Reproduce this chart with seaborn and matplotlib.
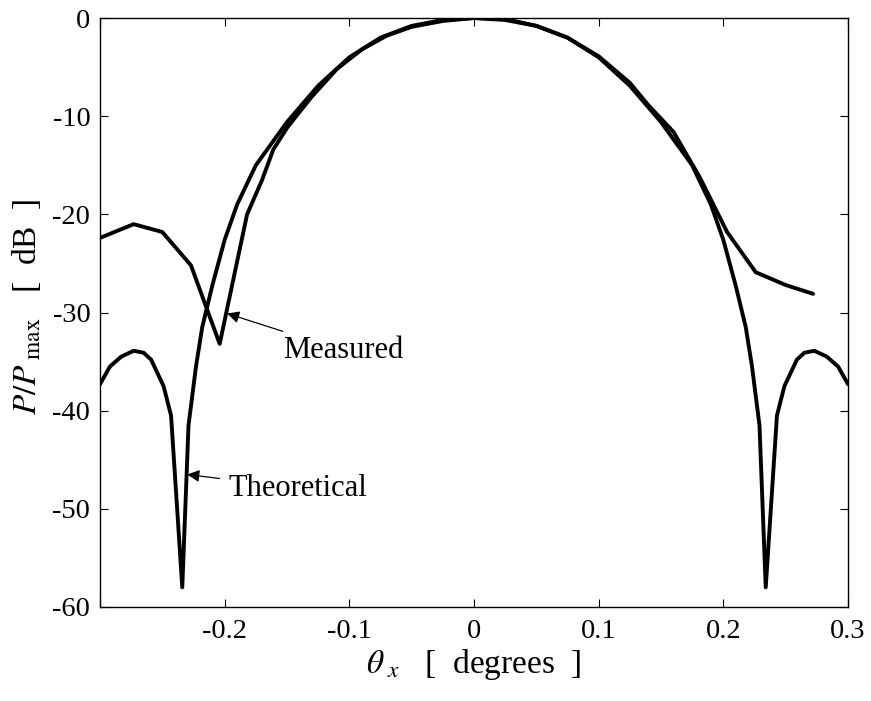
import numpy as np
import pandas as pd
import matplotlib
matplotlib.use("Agg")
import matplotlib.pyplot as plt
import seaborn as sns

# Data (theta in degrees, power in dB)
theory_x = [-0.300, -0.292, -0.283, -0.273, -0.265, -0.259, -0.249, -0.243, -0.234,
            -0.229, -0.223, -0.218, -0.210, -0.200, -0.190, -0.175, -0.150, -0.125,
            -0.100, -0.075, -0.050, -0.025, 0.000, 0.025, 0.050, 0.075, 0.100,
            0.125, 0.150, 0.175, 0.190, 0.200, 0.210, 0.218, 0.223, 0.229, 0.234,
            0.243, 0.249, 0.259, 0.265, 0.273, 0.283, 0.292, 0.300]
theory_y = [-37.3, -35.5, -34.5, -33.9, -34.1, -34.8, -37.5, -40.5, -58.0,
            -41.5, -35.5, -31.5, -27.3, -22.6, -19.0, -15.0, -10.6, -6.9,
            -4.0, -2.0, -0.8, -0.2, 0.0, -0.2, -0.8, -2.0, -4.0,
            -6.9, -10.6, -15.0, -19.0, -22.6, -27.3, -31.5, -35.5, -41.5, -58.0,
            -40.5, -37.5, -34.8, -34.1, -33.9, -34.5, -35.5, -37.3]

meas_x = [-0.300, -0.273, -0.250, -0.227, -0.204, -0.182, -0.170, -0.161, -0.150,
          -0.142, -0.130, -0.110, -0.090, -0.070, -0.050, -0.025, 0.000, 0.025,
          0.050, 0.075, 0.100, 0.125, 0.140, 0.160, 0.181, 0.203, 0.226, 0.250, 0.272]
meas_y = [-22.4, -21.0, -21.8, -25.2, -33.2, -20.0, -16.5, -13.4, -11.2,
          -9.9, -8.0, -5.2, -3.2, -1.8, -0.9, -0.3, 0.0, -0.1,
          -0.8, -2.0, -3.9, -6.6, -8.9, -11.6, -16.2, -21.8, -25.9, -27.2, -28.1]

xticks = [-0.3, -0.2, -0.1, 0, 0.1, 0.2, 0.3]
xticklabels = ["", "-0.2", "-0.1", "0", "0.1", "0.2", "0.3"]
yticks = [-60, -50, -40, -30, -20, -10, 0]
yticklabels = ["-60", "-50", "-40", "-30", "-20", "-10", "0"]

sns.set_style("ticks")
plt.rcParams["font.family"] = ["Liberation Serif", "DejaVu Serif"]
plt.rcParams["mathtext.fontset"] = "stix"
plt.rcParams["axes.unicode_minus"] = False
plt.rcParams["text.color"] = "black"
plt.rcParams["axes.labelcolor"] = "black"

fig = plt.figure(figsize=(8.71, 7.01), dpi=100)
ax = fig.add_axes([0.1148, 0.1341, 0.8588, 0.8402])

theory = pd.DataFrame({"theta": theory_x, "P": theory_y})
meas = pd.DataFrame({"theta": meas_x, "P": meas_y})
sns.lineplot(data=theory, x="theta", y="P", color="black", lw=2.8, sort=False, ax=ax)
sns.lineplot(data=meas, x="theta", y="P", color="black", lw=2.8, sort=False, ax=ax)

ax.set_xlim(-0.3, 0.3)
ax.set_ylim(-60, 0)
ax.set_xticks(xticks)
ax.set_xticklabels(xticklabels)
ax.set_yticks(yticks)
ax.set_yticklabels(yticklabels)
ax.tick_params(direction="in", length=5.5, width=0.8, top=True, right=True,
               labelsize=20.5, colors="black")
ax.tick_params(axis="x", pad=9)
ax.tick_params(axis="y", pad=7)
for s in ax.spines.values():
    s.set_linewidth(1.0)
    s.set_color("black")

ax.set_xlabel(r"$\theta_{\ x}$   [  degrees  ]", fontsize=24)
ax.set_ylabel(r"$P/P_{\ \mathrm{max}}$   [  dB  ]", fontsize=24)
ax.xaxis.set_label_coords(0.5, -0.068)
ax.yaxis.set_label_coords(-0.076, 0.51)

ax.annotate("Measured", xy=(-0.198, -30.1), xytext=(-0.153, -33.9),
            fontsize=22, va="center", ha="left",
            arrowprops=dict(arrowstyle="-|>", color="black", lw=0.9,
                            shrinkA=4, shrinkB=0, mutation_scale=18))
ax.annotate("Theoretical", xy=(-0.230, -46.5), xytext=(-0.197, -47.9),
            fontsize=22, va="center", ha="left",
            arrowprops=dict(arrowstyle="-|>", color="black", lw=0.9,
                            shrinkA=4, shrinkB=0, mutation_scale=18))

plt.savefig("out.png", dpi=100)
